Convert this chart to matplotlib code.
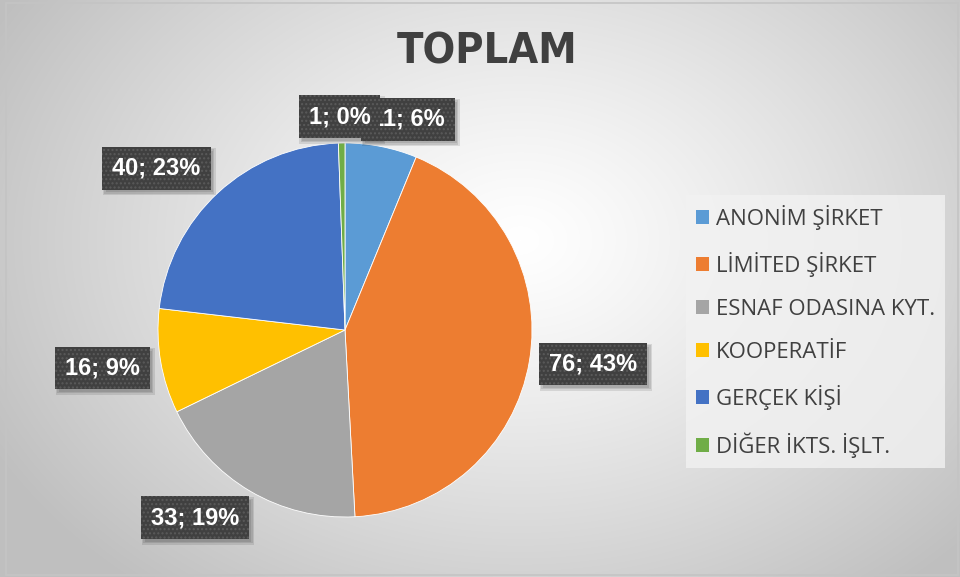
import numpy as np
import matplotlib
matplotlib.use("Agg")
import matplotlib.pyplot as plt
from matplotlib.patches import Rectangle
from matplotlib.transforms import IdentityTransform

categories = ["ANONİM ŞİRKET", "LİMİTED ŞİRKET", "ESNAF ODASINA KYT.",
              "KOOPERATİF", "GERÇEK KİŞİ", "DİĞER İKTS. İŞLT."]
values = [11, 76, 33, 16, 40, 1]
percents = [6, 43, 19, 9, 23, 0]
colors = ["#5B9BD5", "#ED7D31", "#A5A5A5", "#FFC000", "#4472C4", "#70AD47"]
title = "TOPLAM"

W, H = 960, 577
fig = plt.figure(figsize=(W / 100, H / 100), dpi=100)

# background radial gradient
bg = fig.add_axes([0, 0, 1, 1])
yy, xx = np.mgrid[0:H, 0:W]
cx, cy = 520, 240
d = np.sqrt(((xx - cx) / 600.0) ** 2 + ((yy - cy) / 450.0) ** 2)
v = 1.0 - 0.25 * np.clip(d, 0, 1) ** 1.2
img = np.dstack([v, v, v])
bg.imshow(img, extent=[0, W, H, 0], aspect="auto", interpolation="bilinear")
bg.set_xlim(0, W)
bg.set_ylim(H, 0)
bg.axis("off")
bg.add_patch(Rectangle((5.5, 2.5), W - 8, H - 5, fill=False, edgecolor="#c4c4c4", lw=1.2))

# title
fig.text(487 / W, 1 - 52 / H, title, ha="center", va="center", fontsize=31,
         fontweight="bold", color="#404040", family="DejaVu Sans", fontstretch="condensed")

# pie
pcx, pcy, r = 345, 330, 187
ax = fig.add_axes([(pcx - r) / W, 1 - (pcy + r) / H, 2 * r / W, 2 * r / H])
ax.set_facecolor("none")
wedges, _ = ax.pie(values, colors=colors, startangle=90, counterclock=False,
                   radius=1.0, wedgeprops=dict(linewidth=0.6, edgecolor="white"))
ax.set_xlim(-1, 1)
ax.set_ylim(-1, 1)
ax.set_aspect("equal")
ax.axis("off")

# data labels
label_style = [
    dict(ha="center", va="bottom", dx=26, dy=12),
    dict(ha="left", va="center", dx=16, dy=-2),
    dict(ha="right", va="top", dx=-9, dy=-12),
    dict(ha="right", va="center", dx=-17, dy=-6),
    dict(ha="right", va="bottom", dx=-15, dy=10),
    dict(ha="center", va="bottom", dx=-2, dy=11),
]
labels = []
for i in range(len(values)):
    w = wedges[i]
    ang = np.deg2rad((w.theta1 + w.theta2) / 2)
    x, y = 1.02 * np.cos(ang), 1.02 * np.sin(ang)
    st = label_style[i]
    txt = f"{values[i]}; {percents[i]}%"
    t = ax.annotate(txt, xy=(x, y), xytext=(st["dx"], st["dy"]), textcoords="offset pixels",
                    ha=st["ha"], va=st["va"], fontsize=17, fontweight="bold", color="white",
                    family="Liberation Sans", annotation_clip=False, zorder=5,
                    bbox=dict(boxstyle="square,pad=0.42", facecolor="#404040",
                              edgecolor="#5a5a5a", linewidth=0, hatch="...."))
    labels.append(t)

# legend
handles = [Rectangle((0, 0), 1, 1, facecolor=c, edgecolor="none") for c in colors]
leg = fig.legend(handles, categories, loc="upper left",
                 bbox_to_anchor=(686 / W, 1 - 195 / H), frameon=True, fancybox=False,
                 labelspacing=0.99, handlelength=0.6, handleheight=0.6,
                 handletextpad=0.3, borderpad=0.45, borderaxespad=0,
                 prop=dict(family="Open Sans", size=16))
leg.get_frame().set_facecolor("#f2f2f2")
leg.get_frame().set_alpha(0.8)
leg.get_frame().set_edgecolor("none")
for t in leg.get_texts():
    t.set_color("#404040")

# soft drop shadows behind the label boxes
fig.canvas.draw()
renderer = fig.canvas.get_renderer()
for t in labels:
    bb = t.get_bbox_patch().get_window_extent(renderer)
    for k, a in enumerate([0.10, 0.10, 0.10]):
        g = k * 1.5
        ax.add_patch(Rectangle((bb.x0 + 2 - g + 1.5, bb.y0 - 4 - g + 1.5),
                               bb.width + 2 * g - 1.5, bb.height + 2 * g - 1.5,
                               transform=IdentityTransform(), facecolor="black",
                               edgecolor="none", alpha=a, zorder=4, clip_on=False))

fig.savefig("out.png", dpi=100)
